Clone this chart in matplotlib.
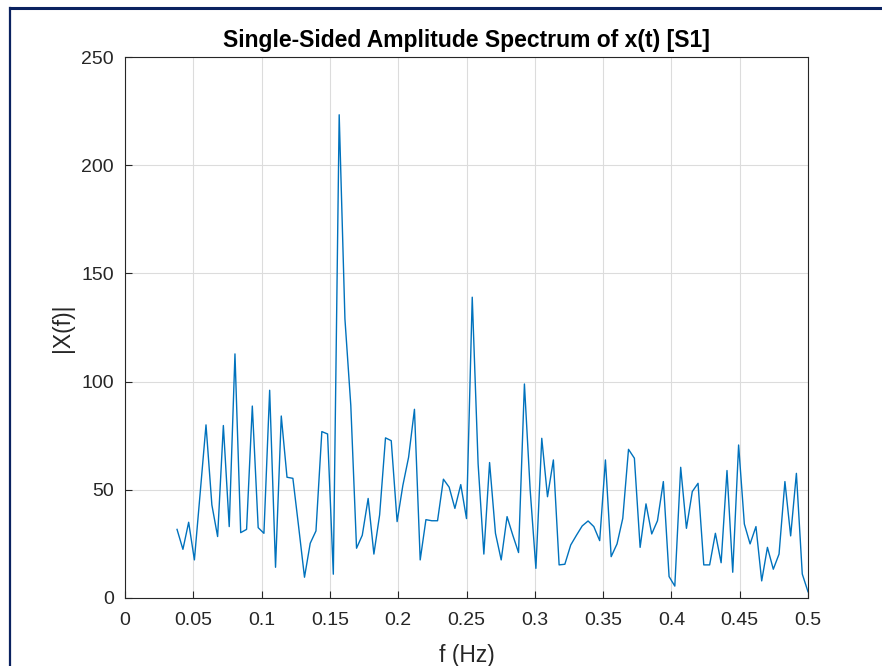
import matplotlib
matplotlib.use("Agg")
import matplotlib.pyplot as plt
from matplotlib.lines import Line2D

freq = [0.0381, 0.0424, 0.0466, 0.0508, 0.0551, 0.0593, 0.0636, 0.0678, 0.0720, 0.0763,
        0.0805, 0.0847, 0.0890, 0.0932, 0.0975, 0.1017, 0.1059, 0.1102, 0.1144, 0.1186,
        0.1229, 0.1271, 0.1314, 0.1356, 0.1398, 0.1441, 0.1483, 0.1525, 0.1568, 0.1610,
        0.1653, 0.1695, 0.1737, 0.1780, 0.1822, 0.1864, 0.1907, 0.1949, 0.1992, 0.2034,
        0.2076, 0.2119, 0.2161, 0.2203, 0.2246, 0.2288, 0.2331, 0.2373, 0.2415, 0.2458,
        0.2500, 0.2542, 0.2585, 0.2627, 0.2669, 0.2712, 0.2754, 0.2797, 0.2839, 0.2881,
        0.2924, 0.2966, 0.3008, 0.3051, 0.3093, 0.3136, 0.3178, 0.3220, 0.3263, 0.3305,
        0.3347, 0.3390, 0.3432, 0.3475, 0.3517, 0.3559, 0.3602, 0.3644, 0.3686, 0.3729,
        0.3771, 0.3814, 0.3856, 0.3898, 0.3941, 0.3983, 0.4025, 0.4068, 0.4110, 0.4153,
        0.4195, 0.4237, 0.4280, 0.4322, 0.4364, 0.4407, 0.4449, 0.4492, 0.4534, 0.4576,
        0.4619, 0.4661, 0.4703, 0.4746, 0.4788, 0.4831, 0.4873, 0.4915, 0.4958, 0.5000]

amplitude = [31.7, 22.5, 35.0, 17.6, 49.0, 80.0, 43.0, 28.4, 79.7, 33.0,
             112.8, 30.2, 31.7, 88.7, 32.5, 29.9, 96.0, 14.2, 84.1, 55.8,
             55.3, 33.0, 9.6, 25.3, 31.0, 76.9, 75.8, 11.0, 223.3, 129.0,
             89.0, 23.0, 29.0, 46.0, 20.3, 38.4, 74.0, 72.7, 35.3, 52.0,
             65.0, 87.2, 17.6, 36.2, 35.7, 35.7, 54.9, 51.2, 41.4, 52.4,
             36.7, 139.0, 62.0, 20.3, 62.6, 29.9, 17.6, 37.6, 29.0, 21.0,
             98.9, 50.0, 13.7, 73.8, 46.8, 63.8, 15.3, 15.6, 24.5, 29.0,
             33.3, 35.6, 33.0, 26.5, 63.8, 19.1, 25.0, 36.8, 68.7, 64.6,
             23.4, 43.5, 29.6, 35.7, 53.8, 9.9, 5.5, 60.4, 32.2, 49.2,
             53.0, 15.3, 15.3, 29.9, 16.3, 58.9, 11.9, 70.7, 34.2, 25.0,
             33.0, 7.9, 23.4, 13.3, 20.3, 53.8, 28.7, 57.6, 11.1, 2.9]

xticks = [0, 0.05, 0.1, 0.15, 0.2, 0.25, 0.3, 0.35, 0.4, 0.45, 0.5]
xticklabels = ["0", "0.05", "0.1", "0.15", "0.2", "0.25", "0.3", "0.35", "0.4", "0.45", "0.5"]
yticks = [0, 50, 100, 150, 200, 250]
yticklabels = ["0", "50", "100", "150", "200", "250"]

plt.rcParams['font.family'] = ['Liberation Sans', 'DejaVu Sans']

fig = plt.figure(figsize=(8.82, 6.66), dpi=100)
ax = fig.add_axes([125/882, 1 - 598/666, (808-125)/882, (598-57)/666])

ax.plot(freq, amplitude, color='#0072BD', linewidth=1.0)
ax.set_xlim(0, 0.5)
ax.set_ylim(0, 250)
ax.set_xticks(xticks)
ax.set_xticklabels(xticklabels)
ax.set_yticks(yticks)
ax.set_yticklabels(yticklabels)
ax.grid(True, color='#dcdcdc', linewidth=0.8)
ax.set_axisbelow(True)
ax.tick_params(direction='in', length=5, width=0.8, colors='#262626', labelsize=14,
               top=False, right=False)
ax.tick_params(axis='x', pad=10)
ax.tick_params(axis='y', pad=8)
for s in ax.spines.values():
    s.set_color('#262626')
    s.set_linewidth(0.8)
ax.set_xlabel('f (Hz)', fontsize=16.5, color='#262626', labelpad=11)
ax.set_ylabel('|X(f)|', fontsize=16.5, color='#262626', labelpad=5)
ax.set_title('Single-Sided Amplitude Spectrum of x(t) [S1]', fontsize=16.5,
             fontweight='bold', color='black', pad=7)

# navy frame around the figure (top and left edges visible)
fig.add_artist(Line2D([10/882, 1], [1 - 8/666, 1 - 8/666], transform=fig.transFigure,
                      color='#0b2260', linewidth=2.2))
fig.add_artist(Line2D([10/882, 10/882], [0, 1 - 8/666], transform=fig.transFigure,
                      color='#0b2260', linewidth=1.6))

fig.savefig('out.png', dpi=100)
